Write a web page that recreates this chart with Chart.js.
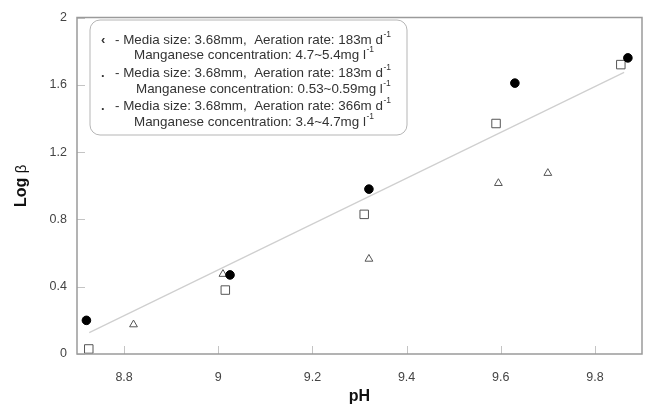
<!DOCTYPE html>
<html><head><meta charset="utf-8">
<script src="https://cdn.jsdelivr.net/npm/chart.js@4/dist/chart.umd.min.js"></script>
<style>html,body{margin:0;padding:0;background:#fff}canvas{display:block}</style>
</head><body>
<canvas id="c" width="649" height="410"></canvas>
<script>
// ---- data ----
const pH1  = [8.72, 9.025, 9.32, 9.63, 9.87];
const log1 = [0.20, 0.47, 0.98, 1.61, 1.76];
const pH2  = [8.725, 9.015, 9.31, 9.59, 9.855];
const log2 = [0.03, 0.38, 0.83, 1.37, 1.72];
const pH3  = [8.82, 9.01, 9.32, 9.595, 9.70];
const log3 = [0.175, 0.475, 0.565, 1.015, 1.075];
const fitPH  = [8.726, 9.862];
const fitLog = [0.127, 1.674];
const xTicks = [8.8, 9.0, 9.2, 9.4, 9.6, 9.8];
const yTicks = [0, 0.4, 0.8, 1.2, 1.6, 2.0];
const legendMarks = ['\u2039', '.', '.'];
const legendRows = [
  [['- Media size: 3.68mm,  Aeration rate: 183m d', '-1'], ['Manganese concentration: 4.7~5.4mg l', '-1']],
  [['- Media size: 3.68mm,  Aeration rate: 183m d', '-1'], ['Manganese concentration: 0.53~0.59mg l', '-1']],
  [['- Media size: 3.68mm,  Aeration rate: 366m d', '-1'], ['Manganese concentration: 3.4~4.7mg l', '-1']]
];
const xTitle = 'pH';
const yTitle = ['Log ', '\u03B2'];

const toPts = (xs, ys) => xs.map((x, i) => ({x: x, y: ys[i]}));
const FONT = '"Liberation Sans", Arial, sans-serif';

const decor = {
  id: 'decor',
  afterDraw(chart) {
    const ctx = chart.ctx, a = chart.chartArea;
    const xs = chart.scales.x, ys = chart.scales.y;
    ctx.save();
    // inward ticks
    ctx.strokeStyle = '#c4c4c4'; ctx.lineWidth = 1;
    xTicks.forEach(v => { const px = Math.round(xs.getPixelForValue(v)) + 0.5;
      ctx.beginPath(); ctx.moveTo(px, a.bottom); ctx.lineTo(px, a.bottom - 8); ctx.stroke(); });
    yTicks.forEach(v => { const py = Math.round(ys.getPixelForValue(v)) + 0.5;
      ctx.beginPath(); ctx.moveTo(a.left, py); ctx.lineTo(a.left + 8, py); ctx.stroke(); });
    // frame
    ctx.strokeStyle = '#9a9a9a'; ctx.lineWidth = 1.5;
    ctx.strokeRect(a.left, a.top, a.right - a.left, a.bottom - a.top);
    // axis titles
    ctx.fillStyle = '#111';
    ctx.font = 'bold 16px ' + FONT; ctx.textAlign = 'center'; ctx.textBaseline = 'middle';
    ctx.fillText(xTitle, (a.left + a.right) / 2, 397);
    ctx.save();
    ctx.translate(22, (a.top + a.bottom) / 2); ctx.rotate(-Math.PI / 2);
    ctx.font = 'bold 16px ' + FONT; const w1 = ctx.measureText(yTitle[0]).width;
    ctx.font = '15px ' + FONT; const w2 = ctx.measureText(yTitle[1]).width;
    ctx.textAlign = 'left';
    ctx.font = 'bold 16px ' + FONT; ctx.fillText(yTitle[0], -(w1 + w2) / 2, 0);
    ctx.font = '15px ' + FONT; ctx.fillText(yTitle[1], -(w1 + w2) / 2 + w1, 0);
    ctx.restore();
    // legend box
    const bx = 90, by = 20, bw = 317, bh = 115, r = 10;
    ctx.beginPath();
    ctx.moveTo(bx + r, by); ctx.arcTo(bx + bw, by, bx + bw, by + bh, r);
    ctx.arcTo(bx + bw, by + bh, bx, by + bh, r); ctx.arcTo(bx, by + bh, bx, by, r);
    ctx.arcTo(bx, by, bx + bw, by, r); ctx.closePath();
    ctx.fillStyle = '#fff'; ctx.fill();
    ctx.strokeStyle = '#b5b5b5'; ctx.lineWidth = 1; ctx.stroke();
    ctx.fillStyle = '#333'; ctx.textBaseline = 'middle'; ctx.textAlign = 'left';
    const rowsY = [[40, 55], [73, 89], [106, 122]];
    const drawLine = (seg, x, y) => {
      ctx.font = '13.4px ' + FONT; ctx.fillText(seg[0], x, y);
      const w = ctx.measureText(seg[0]).width;
      ctx.font = '8.5px ' + FONT; ctx.fillText(seg[1], x + w + 0.5, y - 5);
    };
    legendRows.forEach((row, i) => {
      ctx.font = 'bold 13px ' + FONT; ctx.fillText(legendMarks[i], 101, rowsY[i][0]);
      drawLine(row[0], 115, rowsY[i][0]);
      drawLine(row[1], i === 1 ? 136 : 134, rowsY[i][1]);
    });
    ctx.restore();
  }
};

new Chart(document.getElementById('c'), {
  type: 'scatter',
  data: {
    datasets: [
      {data: toPts(pH1, log1), pointStyle: 'circle', pointRadius: 4.3, backgroundColor: '#000', borderColor: '#000', borderWidth: 1},
      {data: toPts(pH2, log2), pointStyle: 'rect', pointRadius: 6, backgroundColor: 'rgba(255,255,255,0)', borderColor: '#555', borderWidth: 1},
      {data: toPts(pH3, log3), pointStyle: 'triangle', pointRadius: 4.5, backgroundColor: 'rgba(255,255,255,0)', borderColor: '#555', borderWidth: 1},
      {type: 'line', data: toPts(fitPH, fitLog), showLine: true, pointRadius: 0, borderColor: '#cfcfcf', borderWidth: 1.2, fill: false}
    ]
  },
  options: {
    responsive: false, animation: false, devicePixelRatio: 1,
    layout: {padding: {top: 11, right: 6, left: 0, bottom: 0}},
    plugins: {legend: {display: false}, tooltip: {enabled: false}},
    scales: {
      x: {type: 'linear', min: 8.7, max: 9.9,
        afterBuildTicks: s => { s.ticks = xTicks.map(v => ({value: v})); },
        afterFit: s => { s.height = 56; },
        grid: {display: false, drawTicks: false}, border: {display: false},
        ticks: {padding: 16, color: '#444', font: {family: FONT, size: 12.5}, maxRotation: 0,
          callback: v => String(Math.round(v * 10) / 10)}},
      y: {min: 0, max: 2,
        afterBuildTicks: s => { s.ticks = yTicks.map(v => ({value: v})); },
        afterFit: s => { s.width = 77; },
        grid: {display: false, drawTicks: false}, border: {display: false},
        ticks: {padding: 10, color: '#444', font: {family: FONT, size: 12.5},
          callback: v => String(Math.round(v * 10) / 10)}}
    }
  },
  plugins: [decor]
});
</script>
</body></html>
